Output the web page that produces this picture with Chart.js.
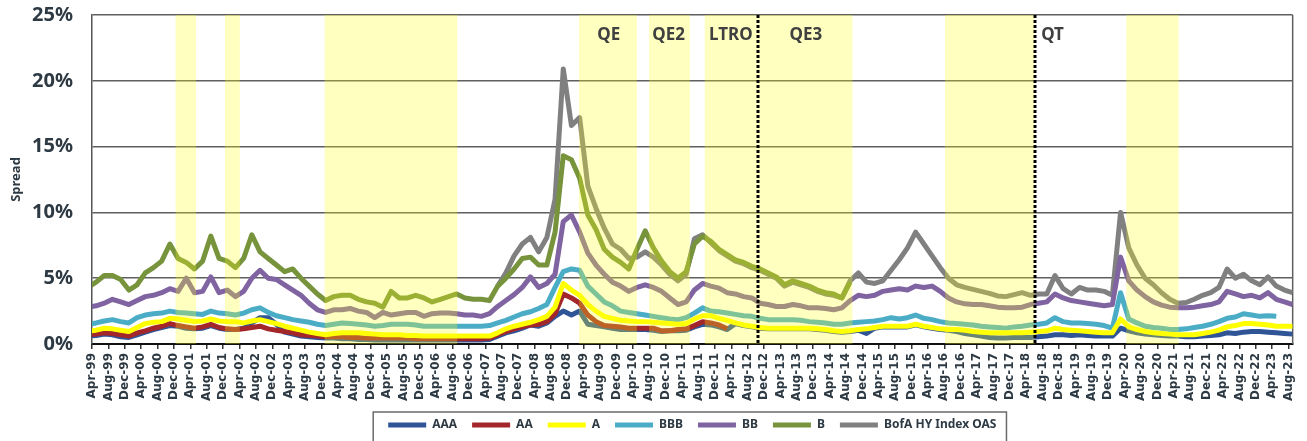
<!DOCTYPE html>
<html>
<head>
<meta charset="utf-8">
<script src="https://cdn.jsdelivr.net/npm/chart.js@4.4.0/dist/chart.umd.min.js"></script>
<style>
  html, body { margin: 0; padding: 0; background: #fff; }
  #wrap { width: 1307px; height: 441px; }
</style>
</head>
<body>
<div id="wrap"><canvas id="spreadChart" width="1307" height="441"></canvas></div>
<script>
// Credit spreads by rating, Apr-99 .. Aug-23
// one value every two months, starting Mar-99 (month index -1, Apr-99 = 0)
const firstMonth = -1;
const monthStep = 2;

const seriesNames = ['AAA', 'AA', 'A', 'BBB', 'BB', 'B', 'BofA HY Index OAS'];
const seriesColors = ['#2F5597', '#A3262A', '#FFFF00', '#4BACC6', '#8064A2', '#77933C', '#808080'];
const drawOrder = [2, 1, 0, 3, 4, 5, 6]; // lower = drawn on top

const aaa = [
  0.6, 0.65, 0.75, 0.7, 0.55, 0.5,
  0.7, 0.9, 1.1, 1.25, 1.4, 1.35,
  1.2, 1.15, 1.2, 1.4, 1.2, 1.1,
  1.1, 1.2, 1.6, 2.0, 2.0, 1.5,
  0.9, 0.75, 0.6, 0.55, 0.5, 0.45,
  0.45, 0.4, 0.4, 0.35, 0.35, 0.3,
  0.3, 0.3, 0.3, 0.3, 0.3, 0.3,
  0.3, 0.3, 0.3, 0.3, 0.3, 0.3,
  0.3, 0.35, 0.6, 0.85, 1.0, 1.2,
  1.45, 1.35, 1.6, 2.1, 2.5, 2.2,
  2.5, 1.5, 1.4, 1.3, 1.2, 1.1,
  1.1, 1.1, 1.1, 1.05, 0.95, 1.0,
  1.0, 1.05, 1.3, 1.5, 1.45, 1.3,
  1.1, 1.55, 1.4, 1.3, 1.2, 1.15,
  1.15, 1.15, 1.15, 1.15, 1.15, 1.1,
  1.05, 0.95, 0.9, 0.95, 1.05, 0.8,
  1.2, 1.3, 1.3, 1.3, 1.3, 1.45,
  1.3, 1.2, 1.1, 1.05, 0.95, 0.8,
  0.7, 0.6, 0.5, 0.45, 0.45, 0.5,
  0.5, 0.5, 0.55, 0.6, 0.7, 0.7,
  0.65, 0.7, 0.65, 0.6, 0.6, 0.6,
  1.2, 1.0, 0.85, 0.75, 0.7, 0.65,
  0.6, 0.6, 0.55, 0.55, 0.6, 0.65,
  0.7, 0.85, 0.8, 0.9, 0.95, 0.95,
  0.9, 0.85, 0.8, 0.75
];

const aa = [
  0.7, 0.75, 0.85, 0.8, 0.7, 0.6,
  0.85, 1.0, 1.2, 1.35, 1.55, 1.4,
  1.3, 1.2, 1.3, 1.5, 1.25, 1.15,
  1.1, 1.15, 1.25, 1.35, 1.15, 1.05,
  0.95, 0.85, 0.7, 0.65, 0.6, 0.55,
  0.55, 0.55, 0.5, 0.5, 0.45, 0.45,
  0.45, 0.45, 0.45, 0.45, 0.4, 0.4,
  0.4, 0.4, 0.4, 0.4, 0.4, 0.4,
  0.4, 0.45, 0.7, 0.95, 1.15, 1.3,
  1.45, 1.5, 1.7, 2.3, 3.8, 3.5,
  3.1, 2.2, 1.7, 1.4, 1.35, 1.3,
  1.2, 1.2, 1.2, 1.2, 1.0, 1.0,
  1.1, 1.15, 1.4, 1.7, 1.6, 1.45,
  1.15, null, null, null, null, null,
  null, null, null, null, null, null,
  null, null, null, null, null, null,
  null, null, null, null, null, null,
  null, null, null, null, null, null,
  null, null, null, null, null, null,
  null, null, null, null, null, null,
  null, null, null, null, null, null,
  null, null, null, null, null, null,
  null, null, null, null, null, null,
  null, null, null, null, null, null,
  null, null, null, null
];

const a = [
  0.95, 1.05, 1.2, 1.15, 1.05, 0.95,
  1.25, 1.55, 1.65, 1.7, 1.95, 1.9,
  1.8, 1.7, 1.75, 1.9, 1.75, 1.7,
  1.7, 1.6, 1.75, 1.85, 1.7, 1.55,
  1.35, 1.2, 1.05, 0.9, 0.8, 0.7,
  0.8, 0.85, 0.85, 0.85, 0.8, 0.75,
  0.7, 0.7, 0.7, 0.65, 0.65, 0.6,
  0.6, 0.6, 0.6, 0.6, 0.6, 0.6,
  0.6, 0.6, 0.85, 1.15, 1.35, 1.5,
  1.65, 1.85, 2.1, 2.8, 4.6, 4.1,
  3.7, 3.0, 2.5, 2.1, 1.95, 1.8,
  1.75, 1.7, 1.7, 1.65, 1.6, 1.55,
  1.5, 1.55, 1.9, 2.15, 2.15, 1.95,
  1.8, 1.6, 1.45, 1.35, 1.25, 1.2,
  1.2, 1.2, 1.2, 1.2, 1.2, 1.15,
  1.1, 1.0, 0.95, 1.0, 1.1, 1.15,
  1.25, 1.35, 1.35, 1.35, 1.35, 1.5,
  1.35, 1.25, 1.15, 1.1, 1.1, 1.05,
  0.95, 0.9, 0.85, 0.85, 0.85, 0.85,
  0.85, 0.9, 0.95, 1.0, 1.2, 1.1,
  1.05, 1.0, 0.95, 0.9, 0.85, 0.85,
  1.9, 1.3, 1.1, 0.95, 0.85, 0.8,
  0.75, 0.7, 0.7, 0.7, 0.8, 0.9,
  1.05, 1.3, 1.4, 1.55, 1.55, 1.5,
  1.45, 1.35, 1.35, 1.35
];

const bbb = [
  1.5, 1.6, 1.75, 1.85, 1.7, 1.6,
  2.0, 2.2, 2.3, 2.35, 2.5, 2.4,
  2.35, 2.3, 2.25, 2.5, 2.35, 2.3,
  2.2, 2.35, 2.6, 2.75, 2.4, 2.15,
  2.0, 1.85, 1.75, 1.65, 1.5, 1.4,
  1.5, 1.6, 1.55, 1.5, 1.45, 1.35,
  1.4, 1.5, 1.5, 1.5, 1.45, 1.35,
  1.35, 1.35, 1.35, 1.35, 1.35, 1.35,
  1.35, 1.4, 1.6, 1.8, 2.05, 2.3,
  2.45, 2.7, 3.0, 4.3, 5.5, 5.7,
  5.6, 4.4, 3.8, 3.2, 2.9, 2.5,
  2.4, 2.3, 2.2, 2.1, 2.0, 1.9,
  1.85, 2.0, 2.35, 2.75, 2.5, 2.45,
  2.35, 2.25, 2.15, 2.1, 1.95, 1.85,
  1.85, 1.85, 1.85, 1.8, 1.7, 1.65,
  1.6, 1.5, 1.5, 1.6, 1.65, 1.7,
  1.75, 1.85, 2.0, 1.9, 2.0, 2.2,
  1.95, 1.85, 1.7, 1.6, 1.55, 1.5,
  1.45, 1.35, 1.3, 1.25, 1.2, 1.3,
  1.35, 1.45, 1.5, 1.6, 2.0, 1.7,
  1.6, 1.6, 1.55, 1.5, 1.4, 1.2,
  3.9, 1.9, 1.6, 1.35, 1.25, 1.2,
  1.1, 1.1, 1.15, 1.25, 1.35, 1.5,
  1.7, 1.95, 2.05, 2.3, 2.2, 2.1,
  2.15, 2.1, null, null
];

const bb = [
  2.8, 2.9, 3.1, 3.4, 3.2, 3.0,
  3.3, 3.6, 3.7, 3.9, 4.2, 4.0,
  5.0, 3.9, 4.0, 5.1, 3.9, 4.1,
  3.6, 4.0, 5.0, 5.6, 5.0, 4.9,
  4.5, 4.1, 3.7, 3.1, 2.6, 2.4,
  2.6, 2.6, 2.7, 2.5, 2.4, 2.0,
  2.4, 2.2, 2.3, 2.4, 2.4, 2.1,
  2.3, 2.35, 2.35, 2.3, 2.2, 2.2,
  2.1, 2.3, 2.85, 3.3, 3.75, 4.3,
  5.1, 4.3, 4.6, 5.3, 9.3, 9.8,
  8.5, 6.9, 6.0, 5.3, 4.7, 4.4,
  4.0, 4.3, 4.5, 4.3, 4.0, 3.5,
  3.0, 3.2, 4.1, 4.6, 4.4, 4.25,
  3.9, 3.8, 3.6, 3.5, 3.1, 3.0,
  2.85, 2.85, 3.0, 2.9, 2.75, 2.75,
  2.7, 2.6, 2.75, 3.3, 3.7, 3.6,
  3.7, 4.0, 4.1, 4.2, 4.1, 4.4,
  4.3, 4.4, 4.0, 3.5, 3.2, 3.05,
  3.0, 3.0, 2.9, 2.8, 2.75, 2.75,
  2.8, 3.0, 3.1, 3.2, 3.8, 3.5,
  3.3, 3.2, 3.1, 3.0, 2.9, 3.0,
  6.6, 4.8, 4.1, 3.6, 3.2, 2.95,
  2.8, 2.75, 2.75, 2.8, 2.9, 3.0,
  3.2, 4.0, 3.8, 3.6, 3.7, 3.5,
  3.9, 3.4, 3.2, 3.0
];

const b = [
  4.3, 4.7, 5.2, 5.2, 4.9, 4.1,
  4.5, 5.4, 5.8, 6.3, 7.6, 6.5,
  6.2, 5.7, 6.3, 8.2, 6.5, 6.3,
  5.8, 6.5, 8.3, 7.0, 6.5, 6.0,
  5.5, 5.7, 5.0, 4.4, 3.8, 3.3,
  3.6, 3.7, 3.7, 3.4, 3.2, 3.1,
  2.8, 4.0, 3.5, 3.5, 3.7, 3.5,
  3.2, 3.4, 3.6, 3.8, 3.5, 3.4,
  3.4, 3.3, 4.4, 5.0, 5.7, 6.5,
  6.6, 6.0, 6.0, 8.5, 14.3, 14.0,
  12.6, 9.8, 8.7, 7.2, 6.6, 6.2,
  5.7, 7.2, 8.6, 7.3, 6.3, 5.5,
  5.0, 5.5, 7.6, 8.2, 7.8, 7.2,
  6.8, 6.4, 6.2, 5.9, 5.7, 5.4,
  5.1, 4.5, 4.8, 4.6, 4.4, 4.1,
  3.9, 3.8, 3.5, 4.7, null, null,
  null, null, null, null, null, null,
  null, null, null, null, null, null,
  null, null, null, null, null, null,
  null, null, null, null, null, null,
  null, null, null, null, null, null,
  null, null, null, null, null, null,
  null, null, null, null, null, null,
  null, null, null, null, null, null,
  null, null, null, null
];

const hy = [
  null, null, null, null, null, null,
  null, null, null, null, null, null,
  null, null, null, null, null, null,
  null, null, null, null, null, null,
  null, null, null, null, null, null,
  null, null, null, null, null, null,
  null, null, null, null, null, null,
  null, null, null, null, null, null,
  null, null, 4.4, 5.4, 6.7, 7.6,
  8.1, 7.0, 8.1, 11.0, 20.9, 16.6,
  17.2, 12.0, 10.3, 8.8, 7.6, 7.2,
  6.5, 6.6, 7.0, 6.6, 6.0, 5.3,
  4.8, 5.3, 8.0, 8.3, 7.7, 7.1,
  6.7, 6.3, 6.1, 5.8, 5.6, 5.3,
  5.0, 4.4, 4.7, 4.5, 4.3, 4.0,
  3.8, 3.7, 3.5, 4.8, 5.4, 4.7,
  4.6, 4.8, 5.6, 6.4, 7.3, 8.5,
  7.6, 6.7, 5.8, 5.0, 4.5, 4.3,
  4.15, 4.0, 3.85, 3.65, 3.6, 3.75,
  3.9, 3.7, 3.8, 3.8, 5.2, 4.2,
  3.8, 4.3, 4.1, 4.1, 4.0, 3.7,
  10.0, 7.3, 6.0, 5.0, 4.5, 3.9,
  3.4, 3.1, 3.15, 3.4, 3.7, 3.9,
  4.3, 5.7, 5.0, 5.3, 4.8, 4.5,
  5.1, 4.4, 4.1, 3.9
];

const seriesValues = [aaa, aa, a, bbb, bb, b, hy];

const tickLabels = [
  'Apr-99', 'Aug-99', 'Dec-99', 'Apr-00', 'Aug-00', 'Dec-00',
  'Apr-01', 'Aug-01', 'Dec-01', 'Apr-02', 'Aug-02', 'Dec-02',
  'Apr-03', 'Aug-03', 'Dec-03', 'Apr-04', 'Aug-04', 'Dec-04',
  'Apr-05', 'Aug-05', 'Dec-05', 'Apr-06', 'Aug-06', 'Dec-06',
  'Apr-07', 'Aug-07', 'Dec-07', 'Apr-08', 'Aug-08', 'Dec-08',
  'Apr-09', 'Aug-09', 'Dec-09', 'Apr-10', 'Aug-10', 'Dec-10',
  'Apr-11', 'Aug-11', 'Dec-11', 'Apr-12', 'Aug-12', 'Dec-12',
  'Apr-13', 'Aug-13', 'Dec-13', 'Apr-14', 'Aug-14', 'Dec-14',
  'Apr-15', 'Aug-15', 'Dec-15', 'Apr-16', 'Aug-16', 'Dec-16',
  'Apr-17', 'Aug-17', 'Dec-17', 'Apr-18', 'Aug-18', 'Dec-18',
  'Apr-19', 'Aug-19', 'Dec-19', 'Apr-20', 'Aug-20', 'Dec-20',
  'Apr-21', 'Aug-21', 'Dec-21', 'Apr-22', 'Aug-22', 'Dec-22',
  'Apr-23', 'Aug-23'
];

// shaded periods (recessions / policy programmes)
const shadeStarts = ['2000-12-13', '2001-12-14', '2003-12-24', '2009-02-26', '2010-07-30', '2011-09-17', '2016-08-06', '2020-04-13'];
const shadeEnds   = ['2001-05-13', '2002-04-03', '2006-09-05', '2010-04-30', '2011-05-28', '2014-09-18', '2018-06-01', '2021-05-06'];

// dotted markers and the programme labels
const markerDates = ['2012-10-15', '2018-06-01'];
const programLabels = ['QE', 'QE2', 'LTRO', 'QE3', 'QT'];
const programLabelDates = ['2009-10-04', '2010-12-22', '2012-03-28', '2013-10-07', '2018-10-13'];
const programLabelLevel = 23.5;

const monthNames = ['Jan', 'Feb', 'Mar', 'Apr', 'May', 'Jun', 'Jul', 'Aug', 'Sep', 'Oct', 'Nov', 'Dec'];
function dateToMonth(s) {
  const [yy, mm, dd] = s.split('-').map(Number);
  return (yy - 1999) * 12 + (mm - 4) + (dd - 1) / 30;
}
function labelToMonth(lbl) {
  const [mon, yy] = lbl.split('-');
  const year = Number(yy) > 50 ? 1900 + Number(yy) : 2000 + Number(yy);
  return (year - 1999) * 12 + monthNames.indexOf(mon) + 1 - 4;
}

const textColor = '#2d3a44';

const overlayPlugin = {
  id: 'overlay',
  beforeDatasetsDraw(chart) {
    const { ctx, chartArea: area } = chart;
    ctx.save();
    ctx.strokeStyle = '#5f5f5f';
    ctx.lineWidth = 1.5;
    ctx.beginPath();
    ctx.moveTo(area.right, area.top);
    ctx.lineTo(area.right, area.bottom);
    ctx.stroke();
    ctx.restore();
  },
  afterDatasetsDraw(chart) {
    const { ctx, chartArea: area, scales: { x, y } } = chart;
    ctx.save();
    ctx.beginPath();
    ctx.rect(area.left, area.top, area.right - area.left, area.bottom - area.top);
    ctx.clip();
    // yellow shading sits over the lines
    ctx.fillStyle = 'rgba(255, 255, 30, 0.28)';
    shadeStarts.forEach((s, i) => {
      const x1 = x.getPixelForValue(dateToMonth(s));
      const x2 = x.getPixelForValue(dateToMonth(shadeEnds[i]));
      ctx.fillRect(x1, area.top, x2 - x1, area.bottom - area.top);
    });
    // dotted vertical markers
    ctx.strokeStyle = '#000';
    ctx.lineWidth = 3;
    ctx.setLineDash([3, 2]);
    markerDates.forEach(d => {
      const px = Math.round(x.getPixelForValue(dateToMonth(d)));
      ctx.beginPath();
      ctx.moveTo(px, area.top);
      ctx.lineTo(px, area.bottom);
      ctx.stroke();
    });
    ctx.setLineDash([]);
    ctx.restore();

    ctx.save();
    ctx.font = 'bold 17px "Noto Sans"';
    ctx.fillStyle = '#404040';
    ctx.textAlign = 'center';
    ctx.textBaseline = 'middle';
    programLabels.forEach((t, i) => {
      ctx.fillText(t, x.getPixelForValue(dateToMonth(programLabelDates[i])), y.getPixelForValue(programLabelLevel));
    });
    ctx.restore();
  },
  afterDraw(chart) {
    const boxes = chart.legend.legendHitBoxes;
    if (!boxes || !boxes.length) return;
    const first = boxes[0];
    const last = boxes[boxes.length - 1];
    const { ctx } = chart;
    ctx.save();
    ctx.strokeStyle = '#6b6b6b';
    ctx.lineWidth = 1.5;
    ctx.strokeRect(first.left - 15, 412, last.left + last.width - first.left + 25, 40);
    ctx.restore();
  }
};

const datasets = seriesNames.map((name, k) => ({
  label: name,
  data: seriesValues[k].map((v, i) => ({ x: firstMonth + i * monthStep, y: v })),
  borderColor: seriesColors[k],
  backgroundColor: seriesColors[k],
  borderWidth: 5,
  pointRadius: 0,
  tension: 0,
  borderJoinStyle: 'round',
  order: drawOrder[k]
}));

new Chart(document.getElementById('spreadChart'), {
  type: 'line',
  data: { datasets },
  plugins: [overlayPlugin],
  options: {
    responsive: false,
    animation: false,
    parsing: false,
    layout: { padding: { top: 15, right: 8, bottom: 0, left: 0 } },
    plugins: {
      tooltip: { enabled: false },
      legend: {
        position: 'bottom',
        fullSize: false,
        labels: {
          usePointStyle: true,
          pointStyle: 'line',
          pointStyleWidth: 38,
          padding: 15,
          color: textColor,
          font: { family: 'Noto Sans', weight: 'bold', size: 12 },
          sort: (p, q) => p.datasetIndex - q.datasetIndex
        }
      }
    },
    scales: {
      x: {
        type: 'linear',
        min: 0,
        max: 293,
        afterBuildTicks: scale => {
          scale.ticks = tickLabels.map(l => ({ value: labelToMonth(l) }));
        },
        afterFit: scale => { scale.height = 60; },
        ticks: {
          autoSkip: false,
          minRotation: 90,
          maxRotation: 90,
          padding: 4,
          color: textColor,
          font: { family: 'DejaVu Sans', weight: 'bold', size: 12 },
          callback: (v, i) => tickLabels[i]
        },
        grid: { drawOnChartArea: false, drawTicks: true, tickLength: 5, color: '#333', lineWidth: 1.5 },
        border: { display: true, color: '#111', width: 2 }
      },
      y: {
        min: 0,
        max: 25,
        afterFit: scale => {
          scale.width = 92;
          scale.paddingTop = 0;
          scale.paddingBottom = 0;
        },
        ticks: {
          stepSize: 5,
          padding: 19,
          color: textColor,
          font: { family: 'Noto Sans', weight: 'bold', size: 20 },
          callback: v => v + '%'
        },
        grid: { drawTicks: false, color: '#5f5f5f', lineWidth: 1.5 },
        border: { display: true, color: '#555', width: 1.5 },
        title: {
          display: true,
          text: 'Spread',
          color: textColor,
          font: { family: 'Noto Sans', weight: 'bold', size: 13 },
          padding: { top: 8, bottom: 0 }
        }
      }
    }
  }
});
</script>
</body>
</html>
